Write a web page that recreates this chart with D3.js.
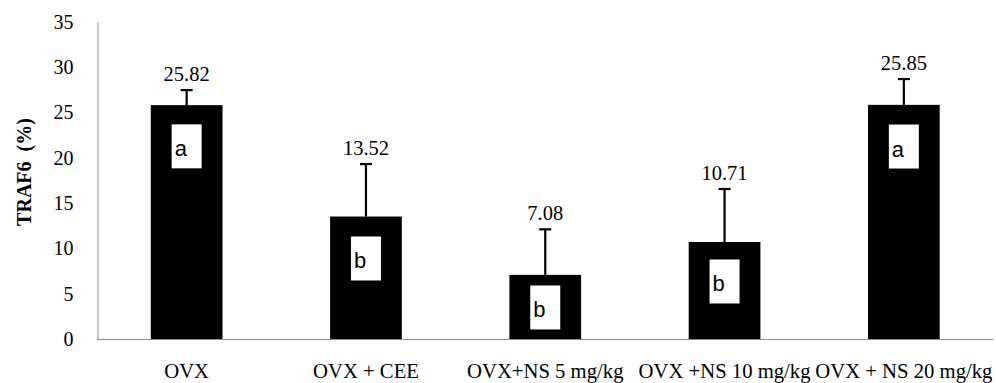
<!DOCTYPE html>
<html>
<head>
<meta charset="utf-8">
<script src="https://cdn.jsdelivr.net/npm/d3@7"></script>
<style>
  html, body { margin: 0; padding: 0; background: #fff; }
  svg { display: block; }
</style>
</head>
<body>
<svg id="chart" width="996" height="383"></svg>
<script>
// ---- Data ----
const categories = ["OVX", "OVX + CEE", "OVX+NS 5 mg/kg", "OVX +NS 10 mg/kg", "OVX + NS 20 mg/kg"];
const values = [25.82, 13.52, 7.08, 10.71, 25.85];
const errors = [1.66, 5.8, 5.03, 5.85, 2.85];
const letters = ["a", "b", "b", "b", "a"];
const letterCenters = [21.27, 8.89, 3.48, 6.35, 21.25];
const yTicks = [0, 5, 10, 15, 20, 25, 30, 35];
const yTitle = "TRAF6  (%)";

(function () {
// ---- Layout ----
const svg = d3.select("#chart");
const mLeft = 97, mRight = 993.5, mTop = 22, mBottom = 339;
const serif = "'Liberation Serif', 'Times New Roman', serif";
const sans = "'Liberation Sans', Arial, sans-serif";
const axisColor = "#8c8c8c";

const x = d3.scaleBand().domain(categories).range([mLeft, mRight]).paddingInner(0.6).paddingOuter(0.3);
const y = d3.scaleLinear().domain([0, 35]).range([mBottom, mTop]);

// Y axis
const yAxis = svg.append("g").attr("transform", `translate(${mLeft + 0.5},0)`)
  .call(d3.axisLeft(y).tickValues(yTicks).tickSize(0).tickSizeOuter(0).tickPadding(24).tickFormat(d3.format("d")));
yAxis.select(".domain").attr("stroke", axisColor).attr("stroke-width", 1);
yAxis.selectAll("text").attr("font-family", serif).attr("font-size", 20).attr("fill", "#000");

// Bars
const g = svg.append("g");
g.selectAll("rect.bar").data(categories).join("rect")
  .attr("class", "bar")
  .attr("x", d => x(d))
  .attr("width", x.bandwidth())
  .attr("y", (d, i) => y(values[i]))
  .attr("height", (d, i) => y(0) - y(values[i]))
  .attr("fill", "#000");

// Error bars (upper only)
const capW = 12;
g.selectAll("line.err").data(categories).join("line")
  .attr("class", "err")
  .attr("x1", d => x(d) + x.bandwidth() / 2)
  .attr("x2", d => x(d) + x.bandwidth() / 2)
  .attr("y1", (d, i) => y(values[i]))
  .attr("y2", (d, i) => y(values[i] + errors[i]))
  .attr("stroke", "#000").attr("stroke-width", 2.2);
g.selectAll("line.cap").data(categories).join("line")
  .attr("class", "cap")
  .attr("x1", d => x(d) + x.bandwidth() / 2 - capW / 2)
  .attr("x2", d => x(d) + x.bandwidth() / 2 + capW / 2)
  .attr("y1", (d, i) => y(values[i] + errors[i]))
  .attr("y2", (d, i) => y(values[i] + errors[i]))
  .attr("stroke", "#000").attr("stroke-width", 2.2);

// Value labels
g.selectAll("text.val").data(categories).join("text")
  .attr("class", "val")
  .attr("x", d => x(d) + x.bandwidth() / 2)
  .attr("y", (d, i) => y(values[i] + errors[i]) - 9.5)
  .attr("text-anchor", "middle")
  .attr("font-family", serif).attr("font-size", 20.5).attr("fill", "#000")
  .text((d, i) => values[i].toFixed(2));

// Letter boxes
const boxW = 30, boxH = 44;
const lg = g.selectAll("g.letter").data(categories).join("g").attr("class", "letter")
  .attr("transform", (d, i) => `translate(${x(d) + x.bandwidth() / 2 - boxW / 2},${y(letterCenters[i]) - boxH / 2})`);
lg.append("rect").attr("width", boxW).attr("height", boxH).attr("fill", "#fff");
lg.append("text").attr("x", 3).attr("y", 32)
  .attr("font-family", sans).attr("font-size", 22).attr("fill", "#000")
  .text((d, i) => letters[i]);

// X axis
const xAxis = svg.append("g").attr("transform", `translate(0,${mBottom + 0.5})`)
  .call(d3.axisBottom(x).tickSize(0).tickSizeOuter(0).tickPadding(0));
xAxis.select(".domain").attr("stroke", axisColor).attr("stroke-width", 1).attr("d", `M${mLeft},0H${mRight}`);
xAxis.selectAll("text").attr("font-family", serif).attr("font-size", 20.7).attr("fill", "#000")
  .attr("dy", null).attr("y", 38);

// Y title
svg.append("text")
  .attr("transform", `translate(31,172) rotate(-90)`)
  .attr("text-anchor", "middle")
  .style("white-space", "pre")
  .attr("font-family", serif).attr("font-size", 20).attr("font-weight", "bold").attr("fill", "#000")
  .text(yTitle);
})();
</script>
</body>
</html>
